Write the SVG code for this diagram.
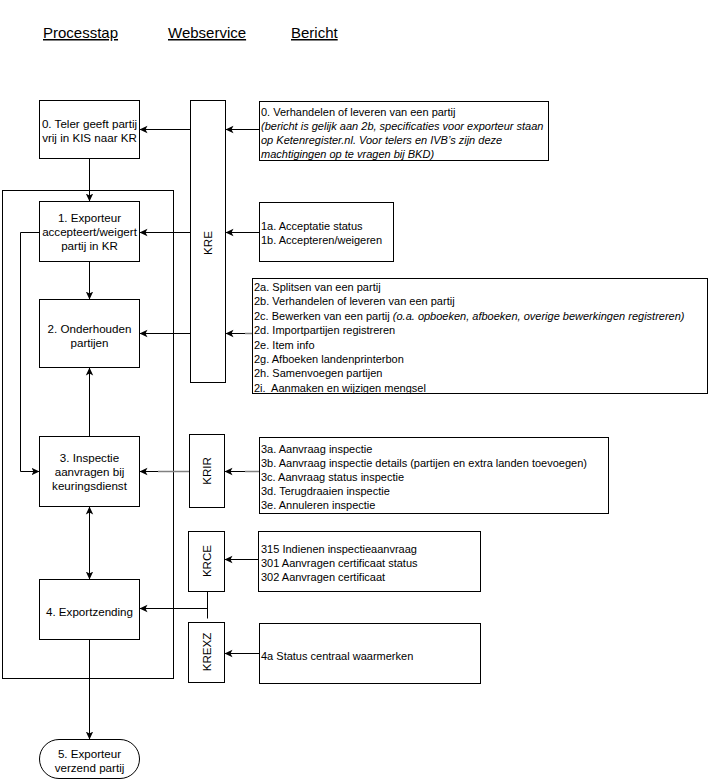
<svg xmlns="http://www.w3.org/2000/svg" width="710" height="780" viewBox="0 0 710 780">
<style>
  .n { fill: #fff; stroke: #000; stroke-width: 1; }
  .t { font-family: "Liberation Sans", Arial, sans-serif; font-size: 11.6px; fill: #000; text-anchor: middle; }
  .m { font-family: "Liberation Sans", Arial, sans-serif; font-size: 11px; fill: #000; white-space: pre; }
  .h { font-family: "Liberation Sans", Arial, sans-serif; font-size: 15px; fill: #000; text-decoration: underline; }
  .c { fill: none; stroke: #000; stroke-width: 1; }
  .g { fill: none; stroke: #808080; stroke-width: 1.5; }
  .i { font-style: italic; }
</style>
<defs>
  <marker id="a" markerUnits="userSpaceOnUse" markerWidth="10" markerHeight="10" refX="8" refY="4" orient="auto-start-reverse" viewBox="0 0 10 8">
    <path d="M0,0.3 L8,4 L0,7.7 L2,4 z" fill="#000"/>
  </marker>
</defs>
<rect width="710" height="780" fill="#fff"/>

<g id="headers">
  <text class="h" x="43" y="38">Processtap</text>
  <text class="h" x="168" y="38">Webservice</text>
  <text class="h" x="291" y="38">Bericht</text>
</g>

<g id="frame">
  <rect x="2.5" y="190.5" width="171" height="488" fill="none" stroke="#000"/>
</g>

<g id="connectors">
  <path class="c" d="M89.5,158.5 V201.5" marker-end="url(#a)"/>
  <path class="c" d="M190.5,129.5 H139.5" marker-end="url(#a)"/>
  <path class="c" d="M259.5,129.5 H225.5" marker-end="url(#a)"/>
  <path class="c" d="M190.5,232.5 H139.5" marker-end="url(#a)"/>
  <path class="c" d="M259.5,232.5 H225.5" marker-end="url(#a)"/>
  <path class="c" d="M89.5,261.5 V299.5" marker-end="url(#a)"/>
  <path class="c" d="M190.5,333.5 H139.5" marker-end="url(#a)"/>
  <path class="c" d="M252.5,333.5 H225.5" marker-end="url(#a)"/>
  <path class="g" d="M245,333.5 H252.5"/>
  <path class="c" d="M39.5,232.5 H20.5 V471.5 H39.5" marker-end="url(#a)"/>
  <path class="c" d="M89.5,436.5 V367.5" marker-end="url(#a)"/>
  <path class="c" d="M189.5,471.5 H139.5" marker-end="url(#a)"/>
  <path class="g" d="M158,471.5 H189.5"/>
  <path class="c" d="M259.5,471.5 H224.5" marker-end="url(#a)"/>
  <path class="g" d="M245,471.5 H259.5"/>
  <path class="c" d="M89.5,506.5 V579.5" marker-start="url(#a)" marker-end="url(#a)"/>
  <path class="c" d="M258.5,559.5 H224.5" marker-end="url(#a)"/>
  <path class="c" d="M207.5,591.5 V618.5"/>
  <path class="c" d="M207.5,608.5 H139.5" marker-end="url(#a)"/>
  <path class="c" d="M259.5,653.5 H224.5" marker-end="url(#a)"/>
  <path class="c" d="M89.5,639.5 V739.5" marker-end="url(#a)"/>
</g>

<g id="step0">
  <rect class="n" x="39.5" y="100.5" width="100" height="58"/>
  <text class="t" x="89.5" y="128">0. Teler geeft partij</text>
  <text class="t" x="89.5" y="142">vrij in KIS naar KR</text>
</g>
<g id="step1">
  <rect class="n" x="39.5" y="201.5" width="100" height="60"/>
  <text class="t" x="89.5" y="222">1. Exporteur</text>
  <text class="t" x="89.5" y="236">accepteert/weigert</text>
  <text class="t" x="89.5" y="250">partij in KR</text>
</g>
<g id="step2">
  <rect class="n" x="39.5" y="299.5" width="100" height="68"/>
  <text class="t" x="89.5" y="333">2. Onderhouden</text>
  <text class="t" x="89.5" y="347">partijen</text>
</g>
<g id="step3">
  <rect class="n" x="39.5" y="436.5" width="100" height="70"/>
  <text class="t" x="89.5" y="462">3. Inspectie</text>
  <text class="t" x="89.5" y="476">aanvragen bij</text>
  <text class="t" x="89.5" y="490">keuringsdienst</text>
</g>
<g id="step4">
  <rect class="n" x="39.5" y="579.5" width="100" height="60"/>
  <text class="t" x="89.5" y="616">4. Exportzending</text>
</g>
<g id="step5">
  <rect class="n" x="39.5" y="739.5" width="100" height="39" rx="19.5" ry="19.5"/>
  <text class="t" x="89.5" y="758">5. Exporteur</text>
  <text class="t" x="89.5" y="772">verzend partij</text>
</g>

<g id="ws-KRE">
  <rect class="n" x="190.5" y="100.5" width="35" height="282"/>
  <text class="t" transform="translate(212,243) rotate(-90)">KRE</text>
</g>
<g id="ws-KRIR">
  <rect class="n" x="189.5" y="434.5" width="35" height="73"/>
  <text class="t" transform="translate(211,471) rotate(-90)">KRIR</text>
</g>
<g id="ws-KRCE">
  <rect class="n" x="188.5" y="531.5" width="36" height="60"/>
  <text class="t" transform="translate(211,561) rotate(-90)">KRCE</text>
</g>
<g id="ws-KREXZ">
  <rect class="n" x="188.5" y="622.5" width="36" height="60"/>
  <text class="t" transform="translate(211,652) rotate(-90)">KREXZ</text>
</g>

<g id="msg0">
  <rect class="n" x="259.5" y="101.5" width="289" height="59"/>
  <text class="m" x="261" y="116">0. Verhandelen of leveren van een partij</text>
  <text class="m i" x="261" y="130">(bericht is gelijk aan 2b, specificaties voor exporteur staan</text>
  <text class="m i" x="261" y="144">op Ketenregister.nl. Voor telers en IVB’s zijn deze</text>
  <text class="m i" x="261" y="158">machtigingen op te vragen bij BKD)</text>
</g>
<g id="msg1">
  <rect class="n" x="259.5" y="202.5" width="134" height="59"/>
  <text class="m" x="261" y="230">1a. Acceptatie status</text>
  <text class="m" x="261" y="244">1b. Accepteren/weigeren</text>
</g>
<g id="msg2">
  <rect class="n" x="252.5" y="278.5" width="455" height="115"/>
  <text class="m" x="254" y="291">2a. Splitsen van een partij</text>
  <text class="m" x="254" y="305.4">2b. Verhandelen of leveren van een partij</text>
  <text class="m" x="254" y="319.8">2c. Bewerken van een partij <tspan class="i">(o.a. opboeken, afboeken, overige bewerkingen registreren)</tspan></text>
  <text class="m" x="254" y="334.2">2d. Importpartijen registreren</text>
  <text class="m" x="254" y="348.6">2e. Item info</text>
  <text class="m" x="254" y="363">2g. Afboeken landenprinterbon</text>
  <text class="m" x="254" y="377.4">2h. Samenvoegen partijen</text>
  <text class="m" x="254" y="391.8">2i.  Aanmaken en wijzigen mengsel</text>
</g>
<g id="msg3">
  <rect class="n" x="259.5" y="437.5" width="349" height="76"/>
  <text class="m" x="261" y="453">3a. Aanvraag inspectie</text>
  <text class="m" x="261" y="467">3b. Aanvraag inspectie details (partijen en extra landen toevoegen)</text>
  <text class="m" x="261" y="481">3c. Aanvraag status inspectie</text>
  <text class="m" x="261" y="495">3d. Terugdraaien inspectie</text>
  <text class="m" x="261" y="509">3e. Annuleren inspectie</text>
</g>
<g id="msg315">
  <rect class="n" x="258.5" y="531.5" width="222" height="60"/>
  <text class="m" x="261" y="553">315 Indienen inspectieaanvraag</text>
  <text class="m" x="261" y="567">301 Aanvragen certificaat status</text>
  <text class="m" x="261" y="581">302 Aanvragen certificaat</text>
</g>
<g id="msg4a">
  <rect class="n" x="259.5" y="623.5" width="221" height="60"/>
  <text class="m" x="261" y="660">4a Status centraal waarmerken</text>
</g>
</svg>
